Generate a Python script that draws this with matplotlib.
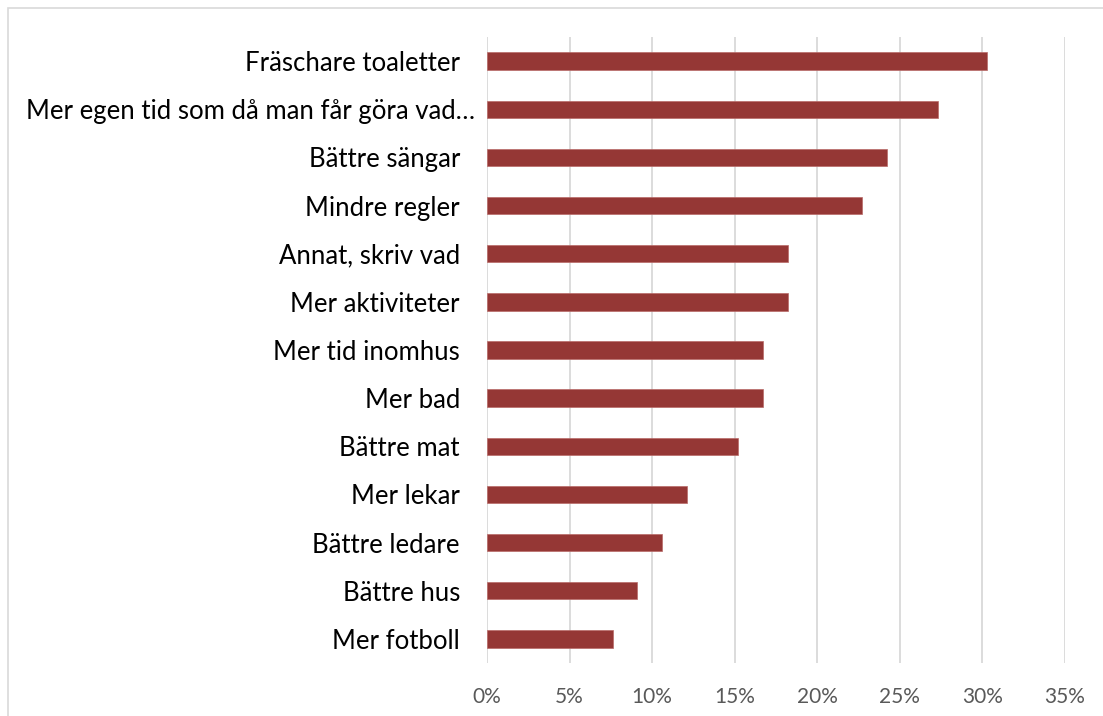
import matplotlib.pyplot as plt
from matplotlib.patches import Rectangle
from matplotlib.ticker import FuncFormatter
from matplotlib.transforms import ScaledTranslation

categories = ['Fräschare toaletter', 'Mer egen tid som då man får göra vad…', 'Bättre sängar',
              'Mindre regler', 'Annat, skriv vad', 'Mer aktiviteter', 'Mer tid inomhus',
              'Mer bad', 'Bättre mat', 'Mer lekar', 'Bättre ledare', 'Bättre hus', 'Mer fotboll']
values = [30.3, 27.3, 24.2, 22.7, 18.2, 18.2, 16.7, 16.7, 15.2, 12.1, 10.6, 9.1, 7.6]
xticks = [0, 5, 10, 15, 20, 25, 30, 35]

plt.rcParams['font.family'] = ['Lato', 'DejaVu Sans']

fig = plt.figure(figsize=(11.03, 7.16), dpi=100)
ax = fig.add_axes([487 / 1103, 1 - 663 / 716, (1065 - 487) / 1103, (663 - 37) / 716])

# outer chart frame (cut off at right/bottom like the reference)
fig.patches.append(Rectangle((8 / 1103, -0.05), 1.2, 1 - 8 / 716 + 0.05,
                             transform=fig.transFigure, fill=False,
                             edgecolor='#d9d9d9', linewidth=1.2))

ypos = list(range(len(categories)))
ax.barh(ypos, values, height=0.36, color='#953735', edgecolor='#b86a68', linewidth=0.5, zorder=3)

ax.set_xlim(0, 35)
ax.set_ylim(len(categories) - 0.5, -0.5)
ax.set_xticks(xticks)
ax.xaxis.set_major_formatter(FuncFormatter(lambda v, p: f'{v:.0f}%'))
ax.set_yticks(ypos)
ax.set_yticklabels(categories)

ax.grid(axis='x', color='#d9d9d9', linewidth=1.3, zorder=0)
ax.set_axisbelow(True)
for s in ax.spines.values():
    s.set_visible(False)

ax.tick_params(axis='y', length=0, pad=19.5, labelsize=18.5, labelcolor='#000000')
ax.tick_params(axis='x', length=0, pad=17, labelsize=15, labelcolor='#595959')

# the truncated label sits a bit further right in the original
lbl = ax.get_yticklabels()[1]
lbl.set_transform(lbl.get_transform() + ScaledTranslation(15 / 100, 0, fig.dpi_scale_trans))

fig.savefig('out.png', dpi=100)
